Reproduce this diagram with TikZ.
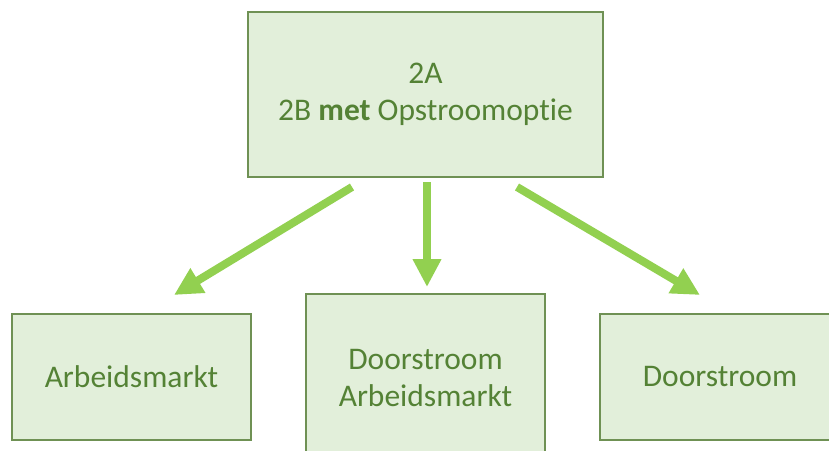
\documentclass[tikz,border=0pt]{standalone}
\usepackage{fontspec}
\setmainfont[Ligatures=NoCommon]{Carlito}
\usetikzlibrary{arrows.meta}
\definecolor{boxfill}{HTML}{E2EFDA}
\definecolor{boxline}{HTML}{6F9154}
\definecolor{txt}{HTML}{548235}
\definecolor{arr}{HTML}{92D050}
\begin{document}
\begin{tikzpicture}[x=1pt,y=-1pt,
  box/.style={draw=boxline,fill=boxfill,line width=1.2pt,text=txt,align=center,font=\fontsize{31.5}{37}\selectfont,inner sep=0pt},
  garrow/.style={draw=arr,line width=8pt,-{Triangle[length=28pt,width=27pt]}}]
\useasboundingbox (0,0) rectangle (829,450);
\node[box,minimum width=355pt,minimum height=165pt] (top) at (425.5,94.5) {2A\\2B \textbf{met} Opstroomoptie};
\node[box,minimum width=239pt,minimum height=126pt] (left) at (131.5,377) {Arbeidsmarkt};
\node[box,minimum width=239pt,minimum height=168pt] (mid) at (425.5,378) {Doorstroom\\Arbeidsmarkt};
\node[box,minimum width=240pt,minimum height=126pt] (right) at (720,377) {Doorstroom};
\coordinate (ls) at (352,187);
\coordinate (le) at (174,295);
\coordinate (ms) at (427,182);
\coordinate (me) at (427,287);
\coordinate (rs) at (517,187);
\coordinate (re) at (700,295);
\draw[garrow] (ls) -- (le);
\draw[garrow] (ms) -- (me);
\draw[garrow] (rs) -- (re);
\end{tikzpicture}
\end{document}
